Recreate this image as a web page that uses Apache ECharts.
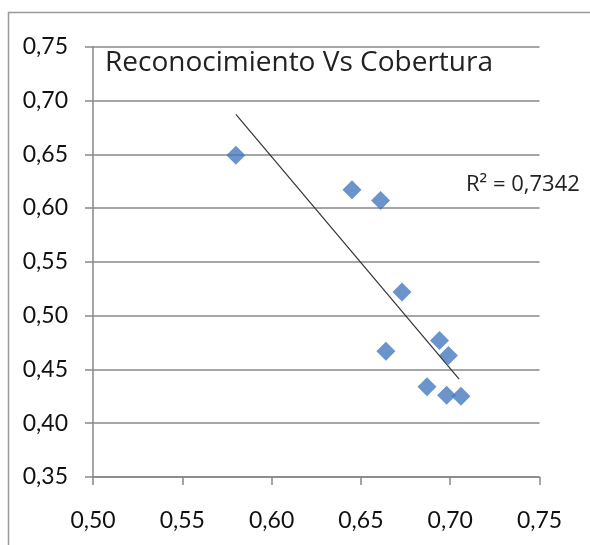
<!DOCTYPE html>
<html>
<head>
<meta charset="utf-8">
<script src="https://cdn.jsdelivr.net/npm/echarts@6/dist/echarts.min.js"></script>
<style>html,body{margin:0;padding:0;background:#fff}#c{width:590px;height:545px}</style>
</head>
<body>
<div id="c"></div>
<script>
var coberturaX = [0.580, 0.645, 0.661, 0.673, 0.664, 0.694, 0.699, 0.687, 0.698, 0.706];
var reconocimientoY = [0.649, 0.617, 0.607, 0.522, 0.467, 0.477, 0.463, 0.434, 0.426, 0.425];
var trendX = [0.580, 0.705];
var trendY = [0.687, 0.441];
var titleText = 'Reconocimiento Vs Cobertura';
var r2Text = 'R\u00b2 = 0,7342';

var chart = echarts.init(document.getElementById('c'), null, {renderer: 'canvas'});
var fmt = function (v) { return v.toFixed(2).replace('.', ','); };
var FONT = 'Lato';
chart.setOption({
  animation: false,
  backgroundColor: '#fff',
  grid: {left: 93, right: 50.5, top: 46.7, bottom: 68, containLabel: false},
  graphic: [
    {type: 'rect', left: 6, top: 10, shape: {width: 620, height: 560}, style: {fill: 'none', stroke: '#9a9a9a', lineWidth: 1.5}, z: -1},
    {type: 'text', left: 105, top: 49, style: {text: titleText, font: '28px "Open Sans"', fill: '#222'}},
    {type: 'text', left: 466, top: 174, style: {text: r2Text, font: '22px "Open Sans"', fill: '#222'}}
  ],
  xAxis: {
    type: 'value', min: 0.5, max: 0.75, interval: 0.05,
    axisLine: {show: true, lineStyle: {color: '#888', width: 1.5}},
    axisTick: {show: true, length: 8, lineStyle: {color: '#888', width: 1.5}},
    splitLine: {show: false},
    axisLabel: {formatter: fmt, fontFamily: FONT, fontSize: 23, color: '#111', margin: 32}
  },
  yAxis: {
    type: 'value', min: 0.35, max: 0.75, interval: 0.05,
    axisLine: {show: true, lineStyle: {color: '#888', width: 1.5}},
    axisTick: {show: true, length: 8, lineStyle: {color: '#888', width: 1.5}},
    splitLine: {show: true, lineStyle: {color: '#888', width: 1.5}},
    axisLabel: {formatter: fmt, fontFamily: FONT, fontSize: 23, color: '#111', margin: 25}
  },
  series: [
    {
      type: 'scatter', symbol: 'diamond', symbolSize: [19, 19],
      itemStyle: {color: '#4679bd'},
      data: coberturaX.map(function (x, i) { return [x, reconocimientoY[i]]; }),
      z: 3
    },
    {
      type: 'line', symbol: 'none', silent: true,
      lineStyle: {color: '#333', width: 1.2},
      data: trendX.map(function (x, i) { return [x, trendY[i]]; }),
      z: 4
    }
  ]
});
</script>
</body>
</html>
